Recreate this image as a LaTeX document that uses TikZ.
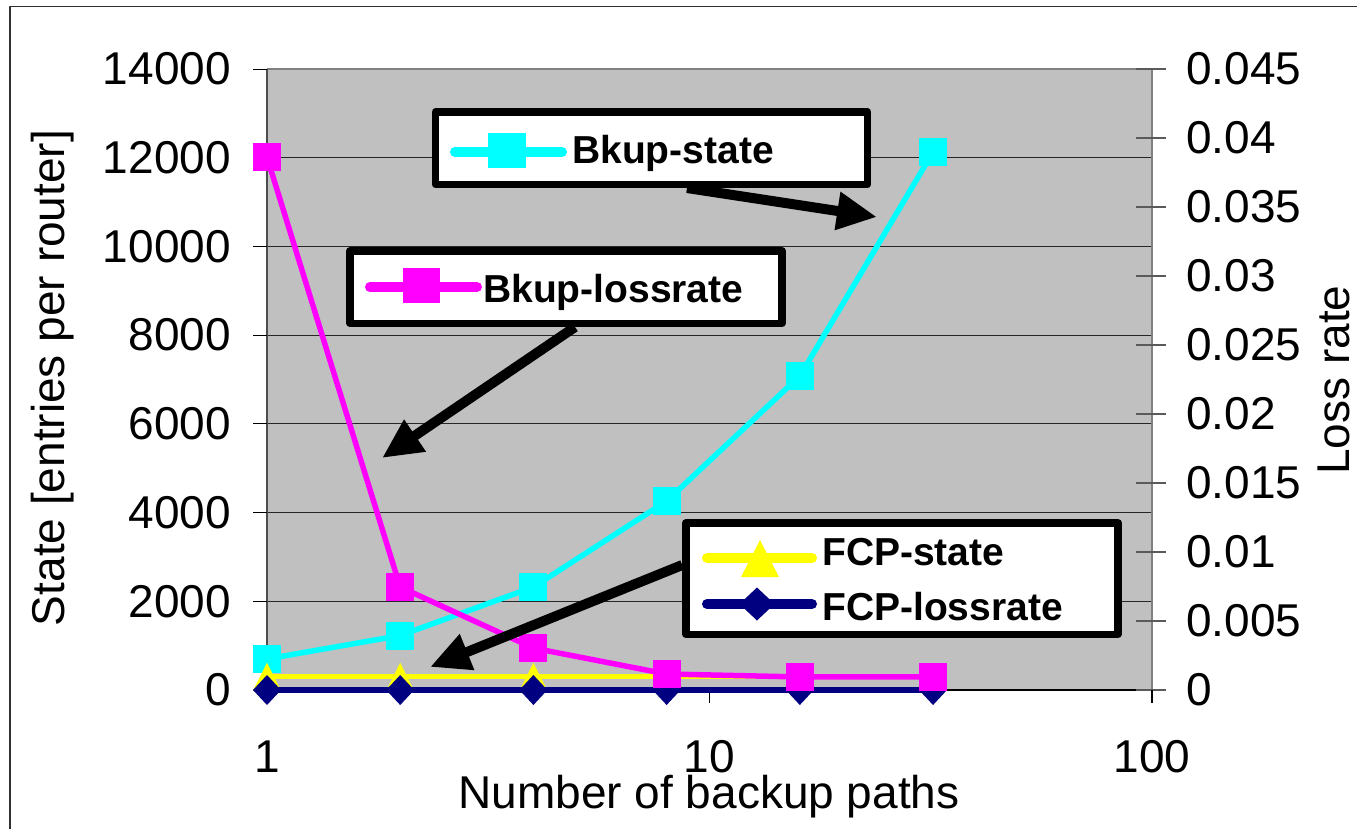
\documentclass[tikz,border=0pt]{standalone}
\usepackage{fontspec}
\setmainfont{Liberation Sans}
\usetikzlibrary{arrows.meta}
\definecolor{plotgray}{HTML}{C0C0C0}
\definecolor{axisgray}{HTML}{808080}
\definecolor{framegray}{HTML}{303030}
\definecolor{bkcyan}{HTML}{00FFFF}
\definecolor{bkmagenta}{HTML}{FF00FF}
\definecolor{fcyellow}{HTML}{FFFF00}
\definecolor{fcnavy}{HTML}{000080}
\tikzset{
  every picture/.style={line join=round},
  % one unit is one pixel of the chart, y grows downwards
  declare function={
    lx(\n)=267+442.5*ln(\n)/ln(10);   % log axis, 1..100
    sy(\v)=690-\v/14000*621;          % state axis, left
    ry(\v)=690-\v/0.045*621;          % loss rate axis, right
  },
  ticklabel/.style={font=\fontsize{46}{50}\selectfont, inner sep=0pt},
  axistitle/.style={font=\fontsize{46}{50}\selectfont, inner sep=0pt},
  gridline/.style={line width=1pt, black!85},
  series/.style={line width=5.5pt},
  legendbox/.style={draw=black, line width=7.5pt, fill=white,
    minimum width=432pt, inner sep=0pt},
  legendtext/.style={font=\fontsize{39}{44}\selectfont\bfseries,
    anchor=base west, inner sep=0pt},
  sample/.style={line width=10pt, line cap=round},
  callout/.style={line width=10pt, -{Triangle[length=40pt,width=36pt]}},
}

\begin{document}
\begin{tikzpicture}[x=1pt, y=-1pt]
\useasboundingbox (0,0) rectangle (1357,828);
% chart frame and plot area
\draw[framegray, line width=1.5pt] (10,6.5) rectangle (1400,880);
\fill[plotgray] (267,69) rectangle (1152,690);
\foreach \v in {2000,4000,...,12000}
  \draw[gridline] (267,{sy(\v)}) -- (1152,{sy(\v)});
\draw[axisgray, line width=2pt] (267,69) -- (1152,69);
\draw[axisgray, line width=2pt] (1152,69) -- (1152,703);
\draw[axisgray!60!black, line width=1.5pt] (267,69) -- (267,690);
\draw[line width=1.5pt] (267,690) -- (1152,690);

% left axis: state
\foreach \v in {0,2000,...,14000} {
  \draw[line width=1pt] (253,{sy(\v)}) -- (267,{sy(\v)});
  \node[ticklabel, anchor=east] (yl\v) at (231,{sy(\v)}) {\v};
}
% right axis: loss rate
\foreach \t [count=\i from 0] in {0,0.005,0.01,0.015,0.02,0.025,0.03,0.035,0.04,0.045} {
  \draw[axisgray!70!black, line width=1.2pt] (1136,{690-69*\i}) -- (1166,{690-69*\i});
  \node[ticklabel, anchor=west] (rl\i) at (1186,{690-69*\i}) {\t};
}
% x axis, log scale
\foreach \n in {1,10,100} {
  \draw[line width=1.2pt] ({lx(\n)},690) -- ({lx(\n)},703);
  \node[ticklabel] (xl\n) at ({lx(\n)},757) {\n};
}
\node[axistitle, anchor=base] (xtitle) at (709,808) {Number of backup paths};
\node[axistitle, rotate=90, anchor=base] (ytitle) at (64,378) {State [entries per router]};
\node[axistitle, rotate=90, anchor=base] (rtitle) at (1349,380) {Loss rate};

% data series, line first and markers on top
\draw[series, bkcyan] ({lx(1)},{sy(700)}) -- ({lx(2)},{sy(1228)}) -- ({lx(4)},{sy(2322)})
  -- ({lx(8)},{sy(4260)}) -- ({lx(16)},{sy(7078)}) -- ({lx(32)},{sy(12128)});
\foreach \n/\v in {1/700,2/1228,4/2322,8/4260,16/7078,32/12128}
  \fill[bkcyan] ({lx(\n)-14},{sy(\v)-14}) rectangle ++(28,28);

\draw[series, fcyellow] ({lx(1)},{sy(300)}) -- ({lx(32)},{sy(300)});
\foreach \n in {1,2,4,8,16,32}
  \fill[fcyellow] ({lx(\n)},{sy(300)-14}) -- ++(14,28) -- ++(-28,0) -- cycle;

\draw[series, fcnavy] ({lx(1)},{ry(0)}) -- ({lx(32)},{ry(0)});
\foreach \n in {1,2,4,8,16,32}
  \fill[fcnavy] ({lx(\n)},{ry(0)-15}) -- ++(14,15) -- ++(-14,15) -- ++(-14,-15) -- cycle;

\draw[series, bkmagenta] ({lx(1)},{ry(0.0386)}) -- ({lx(2)},{ry(0.00746)}) -- ({lx(4)},{ry(0.00304)})
  -- ({lx(8)},{ry(0.00116)}) -- ({lx(16)},{ry(0.00094)}) -- ({lx(32)},{ry(0.00094)});
\foreach \n/\v in {1/0.0386,2/0.00746,4/0.00304,8/0.00116,16/0.00094,32/0.00094}
  \fill[bkmagenta] ({lx(\n)-14},{ry(\v)-14}) rectangle ++(28,28);

% legend boxes
\node[legendbox, minimum height=72.5pt] (lgState) at (651.5,148) {};
\draw[sample, bkcyan] (455,152) -- (562,152);
\fill[bkcyan] (488,133) rectangle (526,168);
\node[legendtext] (txState) at (572,163) {Bkup-state};

\node[legendbox, minimum height=72.5pt] (lgLoss) at (566,287) {};
\draw[sample, bkmagenta] (370,287) -- (477,287);
\fill[bkmagenta] (403,268) rectangle (440,303);
\node[legendtext] (txLoss) at (483,302) {Bkup-lossrate};

\node[legendbox, minimum height=111.5pt] (lgFcp) at (902,578.5) {};
\draw[sample, fcyellow] (707,558) -- (812,558);
\fill[fcyellow] (760,540) -- (779,577) -- (741,577) -- cycle;
\node[legendtext] (txFcpState) at (822,565) {FCP-state};
\draw[sample, fcnavy] (707,604) -- (812,604);
\fill[fcnavy] (757,587.5) -- (774.5,604) -- (757,620.5) -- (739.5,604) -- cycle;
\node[legendtext] (txFcpLoss) at (822,620) {FCP-lossrate};

% callouts from the boxes to the curves
\coordinate (stateTip) at (877,217);
\coordinate (lossTip) at (382,458);
\coordinate (fcpTip) at (430,667);
\draw[callout] ([xshift=35.5pt]lgState.south) -- (stateTip);
\draw[callout] ([xshift=9pt]lgLoss.south) -- (lossTip);
\draw[callout] ([yshift=13.5pt]lgFcp.west) -- (fcpTip);
\end{tikzpicture}
\end{document}
